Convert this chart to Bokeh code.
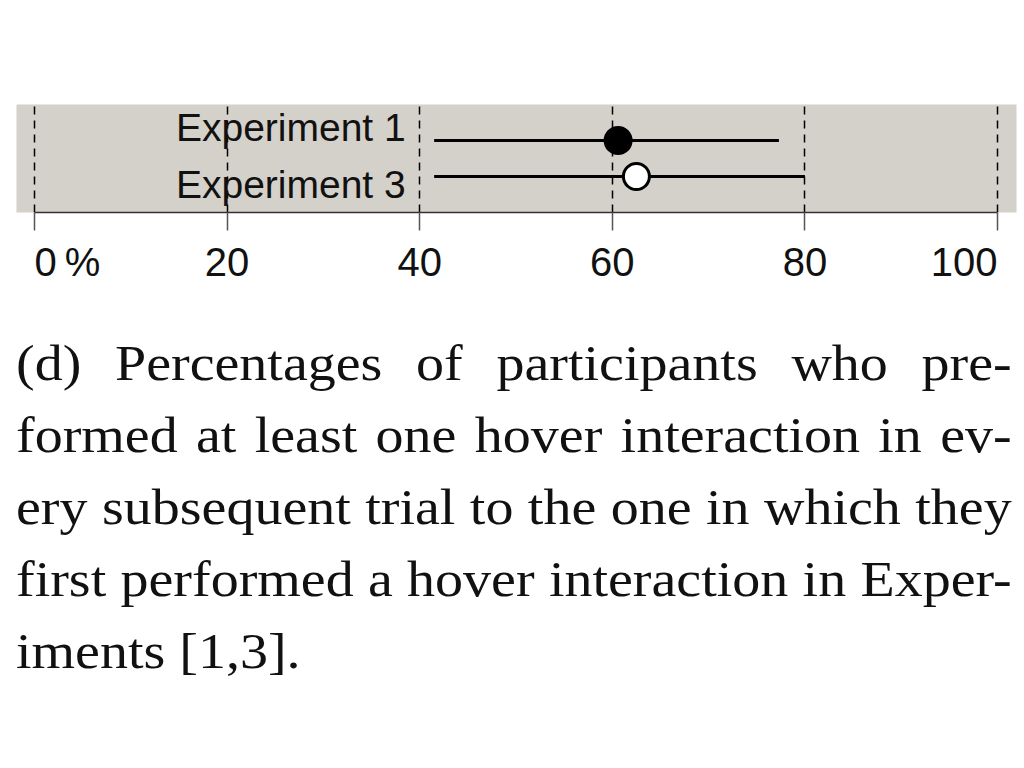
from bokeh.plotting import figure
from bokeh.models import Range1d, FixedTicker, ColumnDataSource, Div
from bokeh.layouts import column
from bokeh.core.properties import value
from bokeh.embed import file_html
from bokeh.resources import INLINE

# ---- data ----
categories = ["Experiment 1", "Experiment 3"]
medians = [60.6, 62.5]
lower = [41.5, 41.5]
upper = [77.3, 80.0]
filled = [True, False]
ticks = [0, 20, 40, 60, 80, 100]
tick_labels = ["0\u2009%", "20", "40", "60", "80", "100"]
caption_lines = [
    "(d) Percentages of participants who pre-",
    "formed at least one hover interaction in ev-",
    "ery subsequent trial to the one in which they",
    "first performed a hover interaction in Exper-",
    "iments [1,3].",
]

# ---- styling ----
BG = "#d4d0ca"
SANS = "Liberation Sans"
SERIF = "Liberation Serif"
XR = (-1.87, 101.97)

n = len(categories)
ypos = [n - i for i in range(n)]  # top row first

p = figure(width=1024, height=232, output_backend="svg", toolbar_location=None,
           x_range=Range1d(*XR), y_range=Range1d(0, n + 1),
           min_border_left=16, min_border_right=8, min_border_top=104,
           min_border_bottom=20)
p.background_fill_color = BG
p.border_fill_color = "white"
p.outline_line_color = None
p.yaxis.visible = False
p.ygrid.visible = False

# x grid: dashed vertical lines
p.xgrid.ticker = FixedTicker(ticks=ticks)
p.xgrid.grid_line_color = "black"
p.xgrid.grid_line_width = 1.5
p.xgrid.grid_line_dash = "8 6"

ax = p.xaxis[0]
ax.ticker = FixedTicker(ticks=ticks)
ax.bounds = (0, 100)
ax.axis_line_color = "#333333"
ax.axis_line_width = 1.5
ax.major_tick_in = 0
ax.major_tick_out = 18
ax.major_tick_line_color = "#555555"
ax.major_tick_line_width = 1.5
ax.minor_tick_line_color = None
ax.major_label_overrides = {t: "" for t in ticks}
ax.major_label_text_font_size = "1px"

src = ColumnDataSource(dict(
    y=ypos, med=medians, lo=lower, hi=upper, cat=categories,
    fill=["black" if f else "white" for f in filled],
    yoff=[-13 if i == 0 else 8 for i in range(n)],
))

# intervals
p.segment(x0="lo", x1="hi", y0="y", y1="y", source=src,
          line_color="black", line_width=3)
# points
p.scatter(x="med", y="y", source=src, size=26, marker="circle",
          fill_color="fill", line_color="black", line_width=3)

# category labels inside the panel
p.text(x=40, y="y", text="cat", source=src, x_offset=-14, y_offset="yoff",
       text_align="right", text_baseline="alphabetic",
       text_font=value(SANS), text_font_size="39px", text_color="#111111")

# tick-label strip (shares the x range so labels sit under their ticks)
q = figure(width=1024, height=95, output_backend="svg", toolbar_location=None,
           x_range=p.x_range, y_range=Range1d(-54, 41),
           min_border_left=16, min_border_right=8, min_border_top=0,
           min_border_bottom=0)
q.axis.visible = False
q.grid.visible = False
q.outline_line_color = None
q.background_fill_color = "white"
q.border_fill_color = "white"
tsrc = ColumnDataSource(dict(
    x=ticks, y=[0] * len(ticks), t=tick_labels,
    align=["left"] + ["center"] * (len(ticks) - 2) + ["right"],
))
q.text(x="x", y="y", text="t", source=tsrc, text_align="align",
       text_baseline="alphabetic", y_offset=-12,
       text_font=value(SANS), text_font_size="40px", text_color="#111111")

# caption
inner = "".join(
    f'<div style="text-align:justify;text-align-last:justify;white-space:nowrap;">{l}</div>'
    for l in caption_lines[:-1]
) + f'<div style="text-align:left;white-space:nowrap;">{caption_lines[-1]}</div>'
html = (f'<div style="font-family:\'{SERIF}\';font-size:50px;line-height:72px;'
        f'color:#111;margin-left:16px;width:889px;transform:scaleX(1.12);'
        f'transform-origin:0 0;">{inner}</div>')
cap = Div(text=html, width=1024, height=380, margin=(0, 0, 0, 0))

layout = column(p, q, cap, spacing=0)

open("out.html", "w").write(file_html(layout, INLINE))
